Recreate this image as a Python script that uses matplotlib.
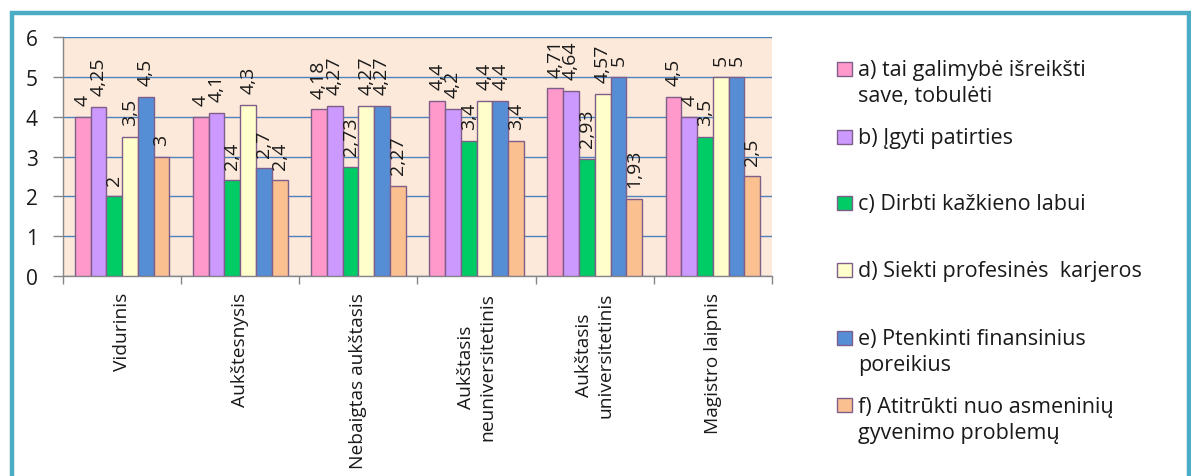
import matplotlib
matplotlib.use("Agg")
import matplotlib.pyplot as plt
from matplotlib.patches import Rectangle
import numpy as np

plt.rcParams['font.family'] = ['Open Sans', 'DejaVu Sans']

categories = ["Vidurinis", "Aukštesnysis", "Nebaigtas aukštasis",
              "Aukštasis\nneuniversitetinis", "Aukštasis\nuniversitetinis",
              "Magistro laipnis"]
series_names = ["a) tai galimybė išreikšti\nsave, tobulėti",
                "b) Įgyti patirties",
                "c) Dirbti kažkieno labui",
                "d) Siekti profesinės  karjeros",
                "e) Ptenkinti finansinius\nporeikius",
                "f) Atitrūkti nuo asmeninių\ngyvenimo problemų"]
s_a = [4, 4, 4.18, 4.4, 4.71, 4.5]
s_b = [4.25, 4.1, 4.27, 4.2, 4.64, 4]
s_c = [2, 2.4, 2.73, 3.4, 2.93, 3.5]
s_d = [3.5, 4.3, 4.27, 4.4, 4.57, 5]
s_e = [4.5, 2.7, 4.27, 4.4, 5, 5]
s_f = [3, 2.4, 2.27, 3.4, 1.93, 2.5]
series = [s_a, s_b, s_c, s_d, s_e, s_f]
colors = ["#FF99CC", "#CC99FF", "#00CC66", "#FFFFCC", "#558ED5", "#FAC090"]
edge = "#7F5F8A"
txt = "#1a1a1a"

W, H = 1191, 477
fig = plt.figure(figsize=(W / 100, H / 100), dpi=100)
fig.patch.set_facecolor("white")

# outer teal frame
fig.patches.append(Rectangle((11.5 / W, -0.1), (1188.5 - 11.5) / W, 1.1 - 14 / H,
                             transform=fig.transFigure, fill=False,
                             edgecolor="#4BACC6", linewidth=3.2, zorder=0))

ax = fig.add_axes([63 / W, (H - 277) / H, (772 - 63) / W, (277 - 38) / H])
ax.set_facecolor("#FDE9D9")

n = len(series)
bw = 1 / 7.5
x = np.arange(len(categories))
for i, (vals, col) in enumerate(zip(series, colors)):
    pos = x + (i - (n - 1) / 2) * bw
    bars = ax.bar(pos, vals, width=bw, color=col, edgecolor=edge, linewidth=1.0, zorder=3)
    for b, v in zip(bars, vals):
        ax.annotate(f"{v:g}".replace(".", ","),
                    (b.get_x() + b.get_width() / 2, b.get_height()),
                    xytext=(0, 8.5), textcoords="offset points",
                    rotation=90, ha="center", va="bottom",
                    fontsize=14, color=txt, zorder=4)

ax.set_xlim(-0.5, len(categories) - 0.5)
ax.set_ylim(0, 6)
ax.set_yticks(range(0, 7))
ax.yaxis.grid(True, color="#4F81BD", linewidth=1.0, zorder=1)
ax.set_axisbelow(True)
ax.tick_params(axis="y", length=7, width=1, color="#868686", pad=11,
               labelsize=15, labelcolor=txt)

ax.set_xticks(x)
ax.set_xticklabels(categories, rotation=90, va="top", ha="center",
                   multialignment="center", fontsize=13.8, color=txt)
ax.set_xticks(np.arange(len(categories) + 1) - 0.5, minor=True)
ax.tick_params(axis="x", which="major", length=0, pad=11.5)
ax.tick_params(axis="x", which="minor", length=6, width=1, color="#868686")

for s in ["top", "right"]:
    ax.spines[s].set_visible(False)
for s in ["left", "bottom"]:
    ax.spines[s].set_color("#868686")
    ax.spines[s].set_linewidth(1.0)

# legend drawn at Excel-like positions
baselines = [76, 144, 210, 277, 345, 413]
centers = [70, 137.5, 204, 271, 338.5, 406]
for name, col, bl, cy in zip(series_names, colors, baselines, centers):
    fig.patches.append(Rectangle((837 / W, (H - cy - 7) / H), 15 / W, 14 / H,
                                 transform=fig.transFigure, facecolor=col,
                                 edgecolor=edge, linewidth=1.0))
    for j, line in enumerate(name.split("\n")):
        fig.text(858 / W, (H - bl - 26 * j) / H, line, ha="left", va="baseline",
                 fontsize=15.5, color=txt)

fig.savefig("out.png", dpi=100)
